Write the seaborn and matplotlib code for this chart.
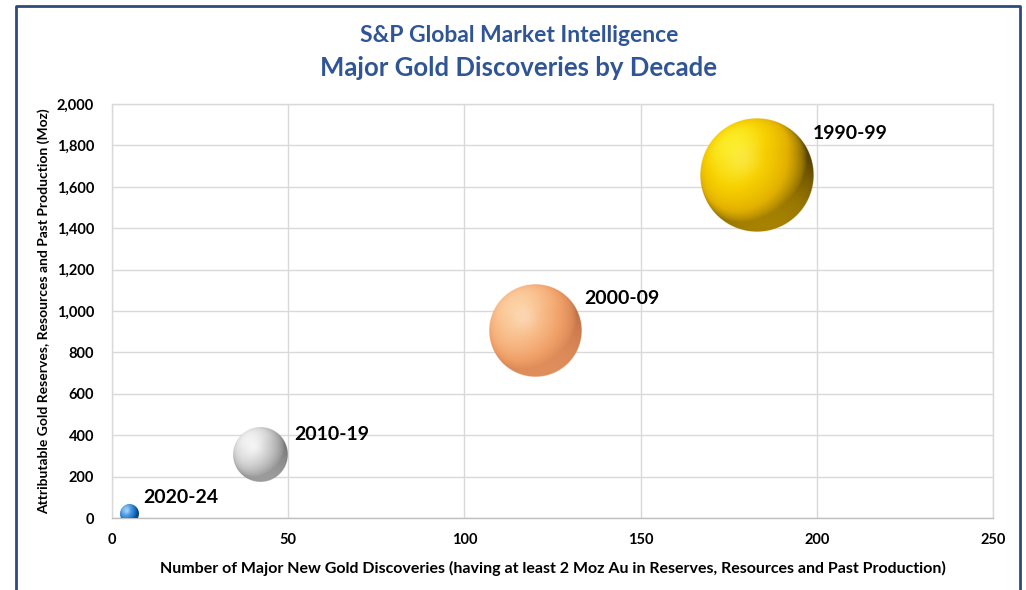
import numpy as np
import pandas as pd
import seaborn as sns
import matplotlib
matplotlib.use("Agg")
import matplotlib.pyplot as plt
from matplotlib.colors import LinearSegmentedColormap
from matplotlib.lines import Line2D
from matplotlib.ticker import FuncFormatter

# data
decades = ["1990-99", "2000-09", "2010-19", "2020-24"]
discoveries = [183, 120, 42, 5]          # x, also bubble size
reserves_moz = [1655, 905, 305, 20]      # y

# label offsets (pixels) and sphere colour ramps (edge -> body -> highlight)
label_dx = [56, 49, 34, 14]
label_dy = [42, 32, 20, 16]
ramps = [
    ["#3a2a00", "#9a7800", "#e2b000", "#f7d000", "#ffff40"],
    ["#b86a40", "#dc8a58", "#f0a068", "#f8bb88", "#ffdcb0"],
    ["#6a6a6a", "#959595", "#b8b8b8", "#dcdcdc", "#ffffff"],
    ["#002a60", "#0b4f98", "#1a75c8", "#4a98e0", "#a8d8ff"],
]
spec_strength = [0.15, 0.25, 0.5, 0.4]

df = pd.DataFrame({"decade": decades, "count": discoveries, "moz": reserves_moz})

W, H, DPI = 1026, 590, 100
R_MAX = 57.0  # px radius of the largest bubble
radius_px = [R_MAX * np.sqrt(c / max(discoveries)) for c in discoveries]


def sphere_image(colors, spec_k, n=300):
    cmap = LinearSegmentedColormap.from_list("s", colors)
    y, x = np.mgrid[1:-1:n * 1j, -1:1:n * 1j]
    rho = np.sqrt(x ** 2 + y ** 2)
    z = np.sqrt(np.clip(1 - rho ** 2, 0, None))
    L = np.array([-0.45, 0.55, 0.70])
    L /= np.linalg.norm(L)
    diff = np.clip(x * L[0] + y * L[1] + z * L[2], 0, None)
    L2 = np.array([0.15, -0.85, 0.35])
    L2 /= np.linalg.norm(L2)
    diff2 = np.clip(x * L2[0] + y * L2[1] + z * L2[2], 0, None)
    Hv = L + np.array([0, 0, 1.0])
    Hv /= np.linalg.norm(Hv)
    spec = np.clip(x * Hv[0] + y * Hv[1] + z * Hv[2], 0, None) ** 25
    inten = np.clip(0.08 + 0.82 * diff + 0.22 * diff2, 0, 1)
    rgb = cmap(inten)[..., :3]
    rgb = rgb + (spec[..., None] * spec_k) * (1 - rgb)
    alpha = np.clip((1 - rho) * n / 2, 0, 1)
    return np.dstack([rgb, alpha])


sns.set_theme(style="white")
plt.rcParams["font.family"] = ["Lato", "DejaVu Sans"]

fig = plt.figure(figsize=(W / DPI, H / DPI), dpi=DPI)
ax = fig.add_axes([112 / W, 1 - 518 / H, 881 / W, 414 / H])

ax.set_xlim(0, 250)
ax.set_ylim(0, 2000)

# base bubbles through seaborn (area proportional to count)
size_map = {c: (2 * (r - 1.5) * 72 / DPI) ** 2 for c, r in zip(discoveries, radius_px)}
pal = {d: c[2] for d, c in zip(decades, ramps)}
sns.scatterplot(data=df, x="count", y="moz", hue="decade", size="count",
                sizes=size_map, palette=pal, linewidth=0, legend=False,
                ax=ax, zorder=3)

# shaded sphere overlay
for (cx, cy, r, ramp, sk) in zip(discoveries, reserves_moz, radius_px, ramps, spec_strength):
    px, py = ax.transData.transform((cx, cy))
    inv = ax.transData.inverted()
    x0, y0 = inv.transform((px - r, py - r))
    x1, y1 = inv.transform((px + r, py + r))
    ax.imshow(sphere_image(ramp, sk), extent=(x0, x1, y0, y1), origin="upper",
              aspect="auto", interpolation="antialiased", zorder=4)

ax.set_xlim(0, 250)
ax.set_ylim(0, 2000)
ax.set_xticks(np.arange(0, 251, 50))
ax.set_yticks(np.arange(0, 2001, 200))
ax.yaxis.set_major_formatter(FuncFormatter(lambda v, p: f"{int(v):,}"))
ax.grid(True, color="#d9d9d9", linewidth=1)
ax.set_axisbelow(True)
for s in ax.spines.values():
    s.set_color("#d9d9d9")
    s.set_linewidth(1)
ax.spines["bottom"].set_color("#bfbfbf")
ax.tick_params(axis="both", length=0, labelsize=10.5, colors="black")
ax.tick_params(axis="x", pad=11)
ax.tick_params(axis="y", pad=13)
for t in ax.get_xticklabels() + ax.get_yticklabels():
    t.set_fontweight("bold")

for d, cx, cy, dx, dy in zip(decades, discoveries, reserves_moz, label_dx, label_dy):
    ax.annotate(d, (cx, cy), xytext=(dx, dy), textcoords="offset pixels",
                ha="left", va="center", fontsize=14, fontweight="bold",
                color="black", zorder=6, annotation_clip=False)

ax.set_xlabel("Number of Major New Gold Discoveries (having at least 2 Moz Au in Reserves, Resources and Past Production)",
              fontsize=11.5, fontweight="bold", color="black", labelpad=10)
ax.set_ylabel("Attributable Gold Reserves, Resources and Past Production (Moz)",
              fontsize=10, fontweight="bold", color="black", labelpad=5)

fig.text(519 / W, 1 - 36 / H, "S&P Global Market Intelligence", ha="center", va="center",
         fontsize=16.5, fontweight="bold", color="#2f5597")
fig.text(519 / W, 1 - 68 / H, "Major Gold Discoveries by Decade", ha="center", va="center",
         fontsize=18.5, fontweight="bold", color="#2f5597")

# outer frame (left, top, right)
frame_col = "#2f4a7f"
fig.add_artist(Line2D([16 / W, 16 / W, 1020 / W, 1020 / W],
                      [0, 1 - 6 / H, 1 - 6 / H, 0],
                      transform=fig.transFigure, color=frame_col, linewidth=2))

fig.savefig("out.png", dpi=DPI, facecolor="white")
